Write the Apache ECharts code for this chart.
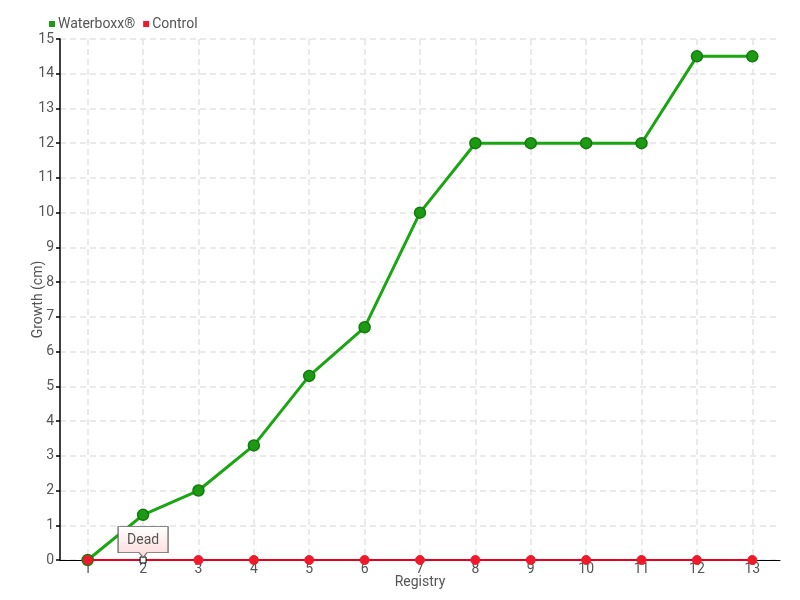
<!DOCTYPE html>
<html><head><meta charset="utf-8">
<script src="https://cdn.jsdelivr.net/npm/echarts@6/dist/echarts.min.js"></script>
<style>html,body{margin:0;padding:0;background:#fff}#c{width:800px;height:600px}</style>
</head><body><div id="c"></div>
<script>
const categories = ['1','2','3','4','5','6','7','8','9','10','11','12','13'];
const yTicks = [0,1,2,3,4,5,6,7,8,9,10,11,12,13,14,15];
const waterboxx = [0, 1.3, 2, 3.3, 5.3, 6.7, 10, 12, 12, 12, 12, 14.5, 14.5];
const control = [0, 0, 0, 0, 0, 0, 0, 0, 0, 0, 0, 0, 0];
const deadIndex = 1;
const deadLabel = 'Dead';

const FONT = 'Roboto, sans-serif';
const TXT = '#555';
const chart = echarts.init(document.getElementById('c'), null, {renderer:'canvas'});
const controlData = control.map((v,i)=> i===deadIndex ? {value:v, symbol:'rect', symbolSize:6, itemStyle:{color:'#fff', borderColor:'#000', borderWidth:1}} : v);
chart.setOption({
  animation:false,
  backgroundColor:'#fff',
  textStyle:{fontFamily:FONT},
  legend:{
    left:44, top:12, itemWidth:6, itemHeight:6, itemGap:8, icon:'rect',
    itemStyle:{borderWidth:0},
    textStyle:{color:TXT, fontSize:14, fontFamily:FONT, padding:[0,0,0,-2]},
    data:['Waterboxx®','Control']
  },
  grid:{left:60, right:20, top:39, bottom:40, containLabel:false},
  xAxis:{
    type:'category', data:categories, boundaryGap:true,
    name:'Registry', nameLocation:'middle', nameGap:15, nameMoveOverlap:false,
    nameTextStyle:{color:TXT, fontSize:14, fontFamily:FONT},
    axisLine:{lineStyle:{color:'#000', width:1}},
    axisTick:{show:false},
    axisLabel:{color:TXT, fontSize:14, fontFamily:FONT, margin:2},
    splitLine:{show:true, alignWithLabel:true, lineStyle:{color:'#e4e4e4', type:[6,4], width:1.5}}
  },
  yAxis:{
    type:'value', min:0, max:15, interval:1,
    name:'Growth (cm)', nameLocation:'middle', nameGap:15, nameMoveOverlap:false,
    nameTextStyle:{color:TXT, fontSize:14, fontFamily:FONT},
    axisLine:{show:true, lineStyle:{color:'#000', width:1.5}},
    axisTick:{show:true, length:4, lineStyle:{color:'#000', width:1.5}},
    axisLabel:{color:TXT, fontSize:14, fontFamily:FONT, margin:6, formatter:(v)=> yTicks.includes(v)? String(v):''},
    splitLine:{show:true, lineStyle:{color:'#e4e4e4', type:[6,4], width:1.5}}
  },
  series:[
    {
      name:'Waterboxx®', type:'line', data:waterboxx, z:3,
      symbol:'circle', symbolSize:11, showAllSymbol:true,
      lineStyle:{color:'#1aa512', width:3},
      itemStyle:{color:'#1c9a14', borderColor:'#137a0e', borderWidth:1.5}
    },
    {
      name:'Control', type:'line', data:controlData, z:4,
      symbol:'circle', symbolSize:9, showAllSymbol:true,
      lineStyle:{color:'#e8001c', width:2},
      itemStyle:{color:'#ee1a2c', borderColor:'#ee1a2c'},
      markPoint:{
        silent:true,
        data:[{
          coord:[deadIndex, control[deadIndex]],
          symbol:'path://M0,0 H50 V26 H29 L25,31 L21,26 H0 Z',
          symbolSize:[50,31],
          symbolOffset:[0,'-58%'],
          itemStyle:{
            color:new echarts.graphic.LinearGradient(0,0,0,1,[{offset:0,color:'#ffffff'},{offset:1,color:'#fcd9d9'}]),
            borderColor:'#666', borderWidth:1
          },
          label:{show:true, formatter:deadLabel, color:TXT, fontSize:14, fontFamily:FONT, offset:[0,-2]}
        }]
      }
    }
  ]
});
</script></body></html>
